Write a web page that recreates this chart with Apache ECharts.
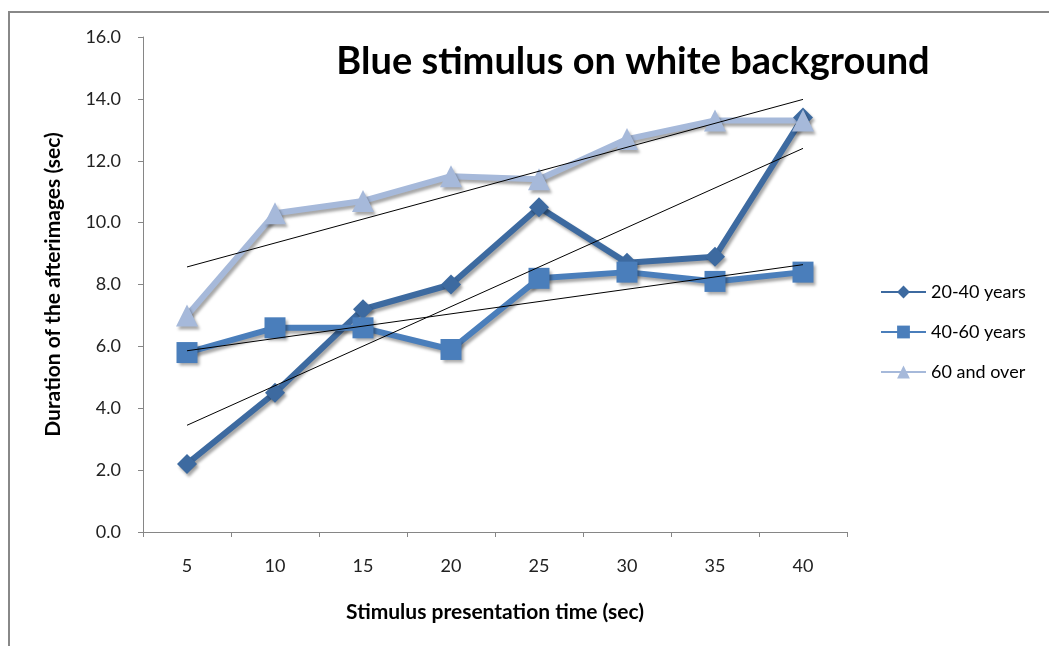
<!DOCTYPE html>
<html><head><meta charset="utf-8">
<script src="https://cdn.jsdelivr.net/npm/echarts@6/dist/echarts.min.js"></script>
<style>html,body{margin:0;padding:0;background:#fff}#c{width:1049px;height:646px}</style>
</head><body><div id="c"></div>
<script>
var categories = ['5','10','15','20','25','30','35','40'];
var s2040 = [2.2, 4.5, 7.2, 8.0, 10.5, 8.7, 8.9, 13.4];
var s4060 = [5.8, 6.6, 6.6, 5.9, 8.2, 8.4, 8.1, 8.4];
var s60 = [7.0, 10.3, 10.7, 11.5, 11.4, 12.7, 13.3, 13.3];
var seriesNames = ['20-40 years', '40-60 years', '60 and over'];

function trend(v){
  var n=v.length, mx=0, my=0, sxy=0, sxx=0;
  for(var i=0;i<n;i++){mx+=i;my+=v[i];}
  mx/=n; my/=n;
  for(var i=0;i<n;i++){sxy+=(i-mx)*(v[i]-my);sxx+=(i-mx)*(i-mx);}
  var b=sxy/sxx, a=my-b*mx;
  return v.map(function(_,i){return +(a+b*i).toFixed(4);});
}
var font = 'Lato, "Open Sans", sans-serif';
var shadow = {shadowColor:'rgba(0,0,0,0.35)', shadowBlur:3, shadowOffsetX:2, shadowOffsetY:3};
var chart = echarts.init(document.getElementById('c'));
function mk(name, data, color, symbol, size){
  return {name:name, type:'line', data:data, symbol:symbol, symbolSize:size, z:3,
    lineStyle:Object.assign({color:color, width:6}, shadow),
    itemStyle:Object.assign({color:color}, shadow), animation:false};
}
function tl(data){
  return {type:'line', data:data, symbol:'none', z:5, silent:true,
    lineStyle:{color:'#000', width:1}, animation:false};
}
chart.setOption({
  animation:false,
  backgroundColor:'#fff',
  graphic:[{type:'rect', shape:{x:9, y:12, width:1200, height:800}, style:{fill:'none', stroke:'#888', lineWidth:2}, z:-1}],
  title:{text:'Blue stimulus on white background', left:628, top:38, textAlign:'center',
    textStyle:{fontFamily:font, fontWeight:'bold', fontSize:38, color:'#000'}},
  legend:{orient:'vertical', left:880, top:283, padding:0, itemGap:22, itemWidth:45, itemHeight:16,
    data:seriesNames, textStyle:{fontFamily:font, fontSize:18, color:'#000'}},
  grid:{left:143, right:202, top:37, bottom:114},
  xAxis:{type:'category', data:categories, boundaryGap:true,
    name:'Stimulus presentation time (sec)', nameLocation:'middle', nameGap:70,
    nameTextStyle:{fontFamily:font, fontWeight:'bold', fontSize:21, color:'#000'},
    axisLine:{lineStyle:{color:'#868686', width:1}},
    axisTick:{show:true, length:5, lineStyle:{color:'#868686'}},
    axisLabel:{margin:25, fontFamily:font, fontSize:18, color:'#222'}},
  yAxis:{type:'value', min:0, max:16, interval:2,
    name:'Duration of the afterimages (sec)', nameLocation:'middle', nameGap:79,
    nameTextStyle:{fontFamily:font, fontWeight:'bold', fontSize:21, color:'#000'},
    axisLine:{show:true, lineStyle:{color:'#868686', width:1}},
    axisTick:{show:true, length:5, lineStyle:{color:'#868686'}},
    splitLine:{show:false},
    axisLabel:{margin:22, fontFamily:font, fontSize:18, color:'#222', formatter:function(v){return v.toFixed(1);}}},
  series:[
    mk(seriesNames[0], s2040, '#3D6AA0', 'diamond', 20),
    mk(seriesNames[1], s4060, '#4A7EBB', 'rect', 21),
    mk(seriesNames[2], s60, '#A6B9DA', 'triangle', 22),
    tl(trend(s2040)), tl(trend(s4060)), tl(trend(s60))
  ]
});
</script></body></html>
